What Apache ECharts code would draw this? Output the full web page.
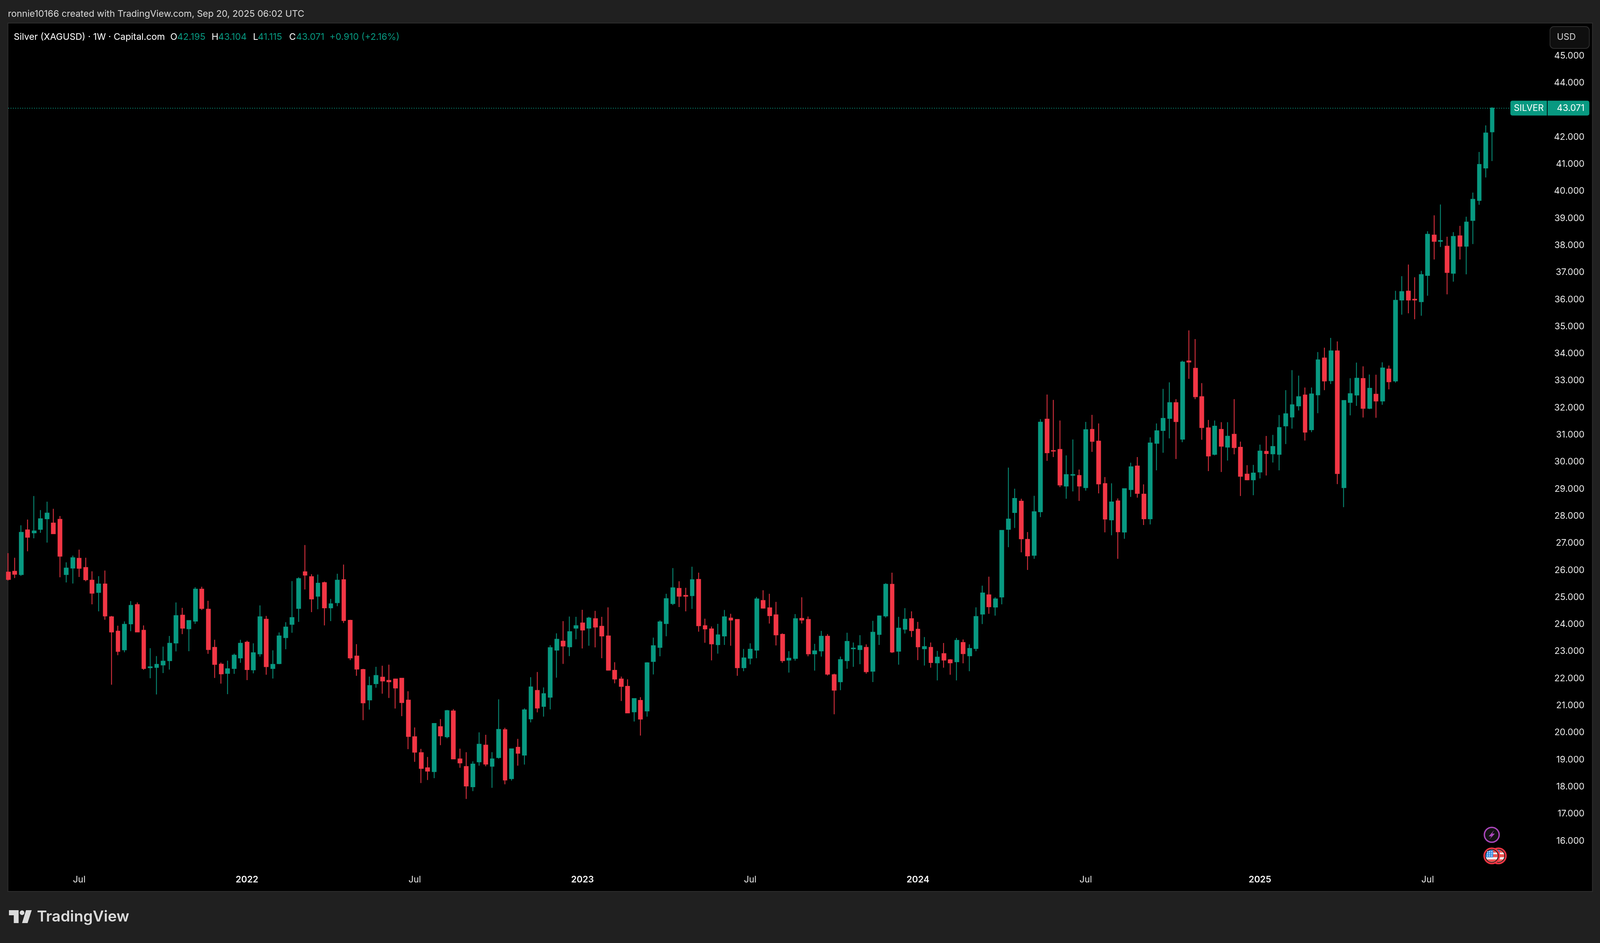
<!DOCTYPE html>
<html>
<head>
<meta charset="utf-8">
<title>Silver (XAGUSD) 1W</title>
<script src="https://cdn.jsdelivr.net/npm/echarts@6/dist/echarts.min.js"></script>
<style>
  html, body { margin: 0; padding: 0; background: #202020; overflow: hidden; }
  #chart { width: 100vw; height: 100vh; }
</style>
</head>
<body>
<div id="chart"></div>
<script>
// weekly candles, first week Apr 19 2021
const opens = [
  25.93,25.96,25.84,27.49,27.38,27.51,27.90,27.74,27.88,25.84,
  26.08,26.44,26.10,25.63,25.18,25.49,24.28,23.75,23.06,24.02,
  24.73,23.78,22.40,22.41,22.50,22.66,23.31,24.34,23.84,24.12,
  25.30,24.56,23.15,22.53,22.19,22.37,22.76,23.34,22.32,22.91,
  24.19,22.37,22.55,23.51,24.00,24.59,25.94,25.76,25.04,25.54,
  24.61,24.80,25.65,24.15,22.83,22.33,21.21,21.81,22.05,21.93,
  21.98,22.01,21.20,19.85,19.26,18.70,18.56,20.22,19.85,20.80,
  19.03,18.75,18.00,18.92,19.54,18.76,19.08,20.11,18.30,19.46,
  19.17,20.51,21.56,20.97,21.31,23.05,23.38,23.17,23.86,24.05,
  23.86,24.21,23.93,23.57,22.30,21.98,21.71,20.77,21.19,20.80,
  22.63,23.15,24.03,24.77,25.33,25.07,25.06,25.66,23.95,23.83,
  23.25,23.57,24.23,24.18,22.40,22.75,23.05,24.88,24.61,24.35,
  23.63,22.68,22.74,24.22,24.18,22.91,23.02,23.56,22.14,21.88,
  22.66,23.10,23.07,23.15,22.27,23.63,24.31,25.48,23.01,23.82,
  24.21,23.82,23.10,23.15,22.58,22.92,22.69,22.62,23.33,22.84,
  23.11,24.38,25.09,24.64,25.01,27.51,28.13,28.55,27.14,26.55,
  28.16,31.58,30.42,30.46,29.11,29.51,29.50,29.05,31.20,30.77,
  29.20,27.86,28.56,27.41,28.98,29.85,28.81,27.90,30.69,31.16,
  31.61,32.19,30.84,33.73,33.46,32.41,31.26,30.28,31.20,30.55,
  31.02,30.54,29.55,29.34,29.63,30.39,30.30,30.28,31.33,31.66,
  32.07,32.47,31.19,32.48,33.84,33.00,34.10,29.05,32.20,32.47,
  33.08,31.98,32.50,32.25,33.43,32.99,35.98,36.31,36.01,35.92,
  36.89,38.38,38.15,37.97,36.97,38.35,37.97,38.92,39.66,40.86,
  42.195
];
const closes = [
  25.66,25.85,27.40,27.22,27.45,27.90,28.11,27.35,26.52,26.08,
  26.46,26.07,25.65,25.15,25.49,24.31,23.72,23.00,24.00,24.70,
  23.72,22.37,22.43,22.52,22.64,23.30,24.32,23.86,24.14,25.30,
  24.59,23.07,22.52,22.17,22.36,22.86,23.30,22.33,22.95,24.28,
  22.44,22.52,23.57,23.90,24.25,25.69,25.82,24.94,25.52,24.61,
  24.76,25.63,24.14,22.76,22.35,21.10,21.74,22.11,21.91,21.88,
  21.65,21.11,19.86,19.28,18.68,18.58,20.34,19.88,20.81,19.03,
  18.88,18.03,18.84,19.57,18.84,19.03,20.12,18.25,19.40,19.24,
  20.84,21.69,20.91,21.44,23.14,23.45,23.20,23.73,23.95,23.79,
  24.23,23.90,23.57,22.31,21.98,21.71,20.73,21.26,20.50,22.58,
  23.21,24.09,24.95,25.35,25.04,25.04,25.65,23.95,23.83,23.28,
  23.61,24.28,24.16,22.40,22.76,23.08,24.94,24.60,24.32,23.61,
  22.66,22.75,24.21,24.16,22.91,23.02,23.56,22.16,21.57,22.70,
  23.37,23.12,23.21,22.25,23.71,24.31,25.48,22.98,23.86,24.19,
  23.77,23.17,23.18,22.59,22.79,22.68,22.58,23.41,22.92,23.11,
  24.29,25.16,24.65,24.94,27.47,27.89,28.65,27.16,26.53,28.16,
  31.47,30.34,30.40,29.15,29.53,29.53,29.11,31.19,30.76,29.19,
  27.89,28.52,27.42,29.01,29.82,28.84,27.90,30.70,31.15,31.61,
  32.19,31.49,33.69,33.69,32.41,31.27,30.22,31.32,30.58,30.95,
  30.53,29.47,29.34,29.59,30.40,30.31,30.57,31.27,31.78,32.11,
  32.41,31.10,32.51,33.77,32.99,34.10,29.57,32.27,32.52,33.09,
  31.98,32.72,32.25,33.47,32.96,35.97,36.29,35.98,35.98,36.92,
  38.41,38.15,38.18,37.00,38.33,37.97,38.86,39.70,40.99,42.15,
  43.071
];
const lows = [
  25.62,25.71,25.79,26.70,27.18,27.38,27.02,27.35,25.74,25.55,
  25.51,25.75,25.59,24.74,24.48,24.17,21.77,22.86,22.97,23.75,
  23.72,22.32,22.01,21.41,22.20,22.33,23.00,23.64,23.01,24.02,
  24.53,22.91,22.02,21.81,21.42,22.17,22.58,21.94,22.19,22.81,
  22.14,22.00,22.53,23.08,23.69,24.09,25.29,24.45,24.56,23.96,
  24.12,24.67,24.05,22.68,22.10,20.46,20.85,21.66,21.44,21.28,
  20.89,20.61,19.39,18.92,18.14,18.25,18.32,19.54,19.79,19.03,
  18.70,17.55,17.84,18.78,18.76,17.96,19.04,18.09,18.23,18.78,
  18.82,20.38,20.75,20.59,20.86,22.03,22.54,22.83,23.45,23.11,
  23.21,23.15,22.75,22.29,21.82,21.17,20.73,20.41,19.89,20.59,
  22.15,22.82,23.56,24.71,24.64,24.48,24.57,23.73,23.32,22.67,
  22.92,23.24,23.21,22.10,22.27,22.52,22.75,24.58,24.03,23.22,
  22.58,22.22,22.66,24.03,22.82,22.29,22.81,22.11,20.68,21.57,
  22.36,22.43,22.53,22.18,21.87,23.24,24.25,22.94,22.51,23.66,
  23.53,22.68,22.48,22.40,21.93,22.40,22.14,21.93,22.56,22.27,
  23.01,24.01,24.39,24.32,24.74,26.85,27.56,26.66,26.01,26.42,
  27.96,30.04,30.18,29.07,28.64,28.91,28.56,28.94,30.37,28.84,
  27.40,27.29,26.42,27.16,28.71,28.68,27.67,27.69,29.69,30.34,
  30.87,30.11,30.73,33.07,32.32,30.82,29.66,30.24,29.63,30.05,
  30.28,28.74,29.32,28.77,29.39,29.50,29.98,29.69,30.66,31.23,
  31.90,30.79,31.10,31.80,32.65,32.88,29.18,28.33,31.72,32.07,
  31.64,31.95,31.63,32.11,32.68,32.93,35.44,35.49,35.27,35.40,
  36.14,37.48,37.94,36.19,36.66,37.48,36.93,38.05,39.50,40.51,
  41.115
];
const highs = [
  26.63,26.46,27.66,27.87,28.74,28.22,28.53,28.27,28.00,26.29,
  26.54,26.76,26.46,25.96,25.78,25.99,24.31,23.95,24.11,24.86,
  24.81,23.96,23.12,22.83,23.18,23.57,24.81,24.61,24.15,25.37,
  25.39,24.87,23.43,22.59,22.66,22.92,23.43,23.40,23.30,24.70,
  24.31,23.04,23.70,24.08,25.60,25.74,26.93,25.85,25.84,25.58,
  24.94,25.87,26.21,24.17,23.27,22.36,22.07,22.43,22.47,22.51,
  22.00,22.01,21.53,20.19,19.40,19.10,20.35,20.50,20.84,20.87,
  19.41,19.28,18.94,20.01,19.92,19.28,21.23,20.18,19.41,19.77,
  20.90,22.05,22.24,21.67,23.23,23.67,24.12,24.29,24.28,24.54,
  24.28,24.50,24.28,24.63,22.60,22.07,21.97,21.26,21.31,22.60,
  23.51,24.15,25.13,26.08,25.59,25.35,26.13,25.91,24.21,23.92,
  24.02,24.53,24.39,24.18,23.09,23.30,25.01,25.26,25.13,24.83,
  23.67,23.01,24.38,25.00,24.29,23.28,23.76,23.64,22.18,22.81,
  23.69,23.33,23.60,23.26,24.13,24.33,25.52,25.91,24.28,24.60,
  24.48,24.09,23.53,23.33,23.02,23.31,22.72,23.50,23.44,23.26,
  24.63,25.43,25.76,25.00,27.48,29.79,29.01,28.64,27.41,28.75,
  31.58,32.49,32.29,31.53,30.24,30.83,29.72,31.48,31.74,31.42,
  29.44,29.21,28.65,29.01,29.97,30.18,29.17,30.91,31.42,32.70,
  32.94,32.32,33.74,34.86,34.54,32.91,31.55,31.53,31.47,31.47,
  32.32,30.75,29.88,29.89,30.64,30.96,31.00,31.73,32.65,33.39,
  33.19,32.75,32.75,34.06,34.22,34.58,34.45,32.28,33.09,33.67,
  33.53,33.23,33.22,33.68,33.56,36.32,36.86,37.29,36.82,37.06,
  38.52,39.11,39.51,38.32,38.49,38.72,39.06,39.95,41.45,42.43,
  43.104
];
const tickWeeks = [11, 37, 63, 89, 115, 141, 167, 194, 220];
const tickLabels = ['Jul', '2022', 'Jul', '2023', 'Jul', '2024', 'Jul', '2025', 'Jul'];
const ohlcNames = ['O', 'H', 'L', 'C'];
const ohlcValues = ['42.195', '43.104', '41.115', '43.071'];
const lastClose = 43.071;

const UP = '#089981';
const DOWN = '#F23645';
const FONT = 'Inter, "Noto Sans", sans-serif';

// layout is measured on the 4642x2414 original and scaled to the real window.
// NOTE: the sandbox window measured 4096x2414, not the 4642x2414 it was meant to be,
// so here x and font sizes shrink by 4096/4642 and the picture is ~12% narrower than the original
const el = document.getElementById('chart');
const sx = el.clientWidth / 4642;
const sy = el.clientHeight / 2414;
const X = (v) => v * sx;
const Y = (v) => v * sy;
const fontPx = (v) => Math.round(v * sx * 10) / 10;

// empty weeks on the right, the axis runs past the last candle
const categories = [];
for (let i = 0; i < 246; i++) {
  const d = new Date(Date.UTC(2021, 3, 19 + i * 7));
  categories.push(d.toISOString().slice(0, 10));
}

const chart = echarts.init(el);

chart.setOption({
  animation: false,
  backgroundColor: '#202020',
  grid: { left: X(24), top: Y(143), width: X(4586), height: Y(2009.7), containLabel: false },
  xAxis: {
    type: 'category',
    data: categories,
    boundaryGap: false,
    axisLine: { show: false },
    axisTick: { show: false },
    splitLine: { show: false },
    axisLabel: {
      margin: Y(88),
      interval: (index) => tickWeeks.includes(index),
      formatter: (value, index) => {
        const label = tickLabels[tickWeeks.indexOf(index)];
        return label === 'Jul' ? '{m|' + label + '}' : '{y|' + label + '}';
      },
      rich: {
        m: { fontFamily: FONT, fontSize: fontPx(26), color: '#e8e8e8' },
        y: { fontFamily: FONT, fontSize: fontPx(26), fontWeight: 600, color: '#f5f5f5' }
      }
    }
  },
  yAxis: {
    type: 'value',
    position: 'right',
    min: 16,
    max: 45,
    interval: 1,
    axisLine: { show: false },
    axisTick: { show: false },
    splitLine: { show: false },
    axisLabel: {
      inside: true,
      margin: X(13),
      fontFamily: FONT,
      fontSize: fontPx(26),
      color: '#ececec',
      formatter: (v) => v.toFixed(3)
    }
  },
  series: [{
    type: 'candlestick',
    barWidth: X(14) - 2,
    data: opens.map((o, i) => [o, closes[i], lows[i], highs[i]]),
    itemStyle: {
      color: UP, color0: DOWN,
      borderColor: UP, borderColor0: DOWN,
      borderWidth: 2
    },
    markLine: {
      silent: true,
      symbol: 'none',
      label: { show: false },
      lineStyle: { color: UP, type: [2, 4], width: 2 },
      data: [{ yAxis: lastClose }]
    }
  }]
});

const priceY = chart.convertToPixel({ yAxisIndex: 0 }, lastClose);

function txt(text, x, y, size, fill, align) {
  return {
    type: 'text', z: 100,
    style: {
      text, x: X(x), y, fill,
      font: (size.weight || '') + ' ' + fontPx(size.px || size) + 'px ' + FONT,
      align: align || 'left', textAlign: align || 'left',
      verticalAlign: 'middle', textVerticalAlign: 'middle'
    }
  };
}

function poly(points, fill) {
  return { type: 'polygon', z: 100, shape: { points: points.map((p) => [X(p[0]), Y(p[1])]) }, style: { fill } };
}

// circle slice between two heights, for the little flags
function band(cx, cy, r, y0, y1, xMax, fill) {
  const left = [], right = [];
  for (let k = 0; k <= 8; k++) {
    const y = y0 + (y1 - y0) * k / 8;
    const w = Math.sqrt(Math.max(0, r * r - y * y));
    right.push([Math.min(cx + w, cx + xMax), cy + y]);
    left.unshift([cx - w, cy + y]);
  }
  return { type: 'polygon', z: 100, shape: { points: right.concat(left) }, style: { fill } };
}

function flag(x, y) {
  const cx = X(x), cy = Y(y), red = '#F05350', items = [];
  const k = sx;
  items.push({ type: 'circle', z: 100, shape: { cx, cy, r: 22 * k }, style: { fill: '#111', stroke: DOWN, lineWidth: 4 } });
  items.push({ type: 'circle', z: 100, shape: { cx, cy, r: 17.5 * k }, style: { fill: '#f2f2f2' } });
  [[-17.5, -9.7], [-4.7, 3.7], [10.3, 17.5]].forEach((s) => {
    items.push(band(cx, cy, 17.5 * k, s[0] * k, s[1] * k, 99, red));
  });
  items.push(band(cx, cy, 17.5 * k, -17.5 * k, 4 * k, 4 * k, '#2A86E0'));
  [-12, -6, 0].forEach((dy) => {
    [-12, -6, 0].forEach((dx) => {
      items.push({ type: 'circle', z: 100, shape: { cx: cx + dx * k, cy: cy + dy * k, r: 1.7 * k }, style: { fill: '#fff' } });
    });
  });
  return items;
}

const legendX = [[494, 514], [614, 633], [734, 748], [839, 859]];
const legendY = Y(95);
const graphics = [
  // plot frame
  { type: 'rect', z: -10, shape: { x: X(23), y: Y(59), width: X(4597), height: Y(2223) }, style: { fill: '#000', stroke: '#2e2e2e', lineWidth: 2 } },
  txt('ronnie10166 created with TradingView.com, Sep 20, 2025 06:02 UTC', 23, Y(36), 26.4, '#d9d9d9'),
  txt('Silver (XAGUSD) · 1W · Capital.com', 40, legendY, 26.5, '#ffffff'),
  txt('+0.910 (+2.16%)', 956, legendY, 26.5, UP),
  // currency button
  { type: 'rect', z: 100, shape: { x: X(4497), y: Y(68), width: X(114), height: Y(56), r: 10 }, style: { fill: '#0f0f0f', stroke: '#2e2e2e', lineWidth: 2 } },
  txt('USD', 4517, Y(95), 26, '#d1d1d1'),
  // last price tag
  { type: 'rect', z: 100, shape: { x: X(4382), y: priceY - Y(19), width: X(106), height: Y(38), r: [5, 0, 0, 5] }, style: { fill: UP } },
  { type: 'rect', z: 100, shape: { x: X(4490), y: priceY - Y(19), width: X(121), height: Y(38), r: [0, 5, 5, 0] }, style: { fill: UP } },
  txt('SILVER', 4392, priceY, 26, '#ffffff'),
  txt(lastClose.toFixed(3), 4597, priceY, 26, '#ffffff', 'right'),
  // TradingView logo
  poly([[26, 2330], [54, 2330], [54, 2363], [40, 2363], [40, 2343], [26, 2343]], '#dbdbdb'),
  { type: 'circle', z: 100, shape: { cx: X(64), cy: Y(2336.5), r: 6.7 * sx }, style: { fill: '#dbdbdb' } },
  poly([[75.5, 2330], [92, 2330], [80, 2363], [64, 2363]], '#dbdbdb'),
  txt('TradingView', 107, Y(2347), { px: 44, weight: 600 }, '#dbdbdb'),
  // event markers
  { type: 'circle', z: 100, shape: { cx: X(4328), cy: Y(2137), r: 21.5 * sx }, style: { fill: '#121212', stroke: '#AB47BC', lineWidth: 3.5 } },
  poly([[4335, 2125], [4319, 2141], [4327, 2141], [4321, 2149], [4337, 2134], [4329, 2134]], '#AB47BC')
];
ohlcNames.forEach((n, i) => {
  graphics.push(txt(n, legendX[i][0], legendY, 26.5, '#ffffff'));
  graphics.push(txt(ohlcValues[i], legendX[i][1], legendY, 26.5, UP));
});

chart.setOption({ graphic: graphics.concat(flag(4347, 2191), flag(4328, 2191)) });
</script>
</body>
</html>
